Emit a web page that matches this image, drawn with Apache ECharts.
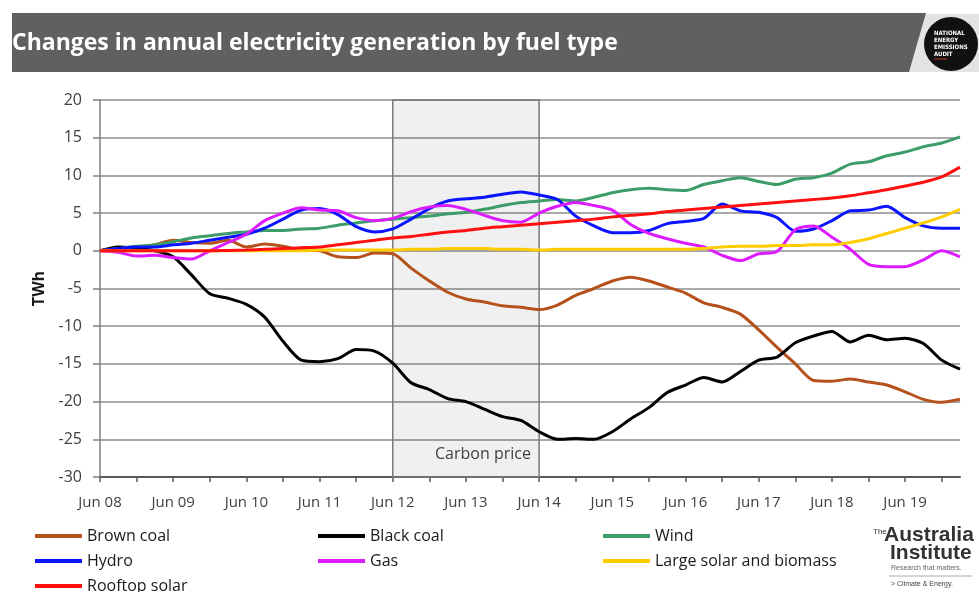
<!DOCTYPE html>
<html>
<head>
<meta charset="utf-8">
<script src="https://cdn.jsdelivr.net/npm/echarts@6/dist/echarts.min.js"></script>
<style>
html, body { margin: 0; padding: 0; background: #fff; }
#chart { width: 979px; height: 592px; }
</style>
</head>
<body>
<div id="chart"></div>
<script>
// quarterly points, Jun 08 .. Mar 20
var months = ['Jun', 'Sep', 'Dec', 'Mar'];
var quarters = [];
for (var k = 0; k < 48; k++) {
    var yr = 8 + Math.floor((k + 1) / 4);
    quarters.push(months[k % 4] + ' ' + (yr < 10 ? '0' + yr : '' + yr));
}

var brownCoal = [0, 0.3, 0.4, 0.8, 1.4, 1.1, 1.0, 1.4, 0.5, 0.9, 0.6, 0.1,
    0, -0.8, -0.9, -0.3, -0.4, -2.3, -4.0, -5.5, -6.4, -6.8, -7.3, -7.5,
    -7.8, -7.2, -5.9, -5.0, -4.0, -3.5, -4.0, -4.8, -5.6, -6.9, -7.5, -8.4,
    -10.5, -12.8, -15.0, -17.2, -17.3, -17.0, -17.4, -17.8, -18.7, -19.7, -20.1, -19.7];
var blackCoal = [0, 0.5, 0.3, 0, -0.8, -3.2, -5.7, -6.3, -7.1, -8.8, -12.0, -14.5,
    -14.7, -14.3, -13.1, -13.3, -14.9, -17.5, -18.4, -19.6, -20.0, -21.0, -22.0, -22.5,
    -24.0, -25.0, -24.9, -25.0, -24.0, -22.3, -20.8, -18.8, -17.8, -16.8, -17.4, -16.0,
    -14.5, -14.1, -12.2, -11.3, -10.7, -12.1, -11.2, -11.8, -11.6, -12.3, -14.5, -15.7];
var wind = [0, 0.3, 0.6, 0.8, 1.2, 1.7, 2.0, 2.3, 2.5, 2.7, 2.7, 2.9,
    3.0, 3.4, 3.7, 4.0, 4.2, 4.4, 4.6, 4.9, 5.1, 5.5, 6.0, 6.4,
    6.6, 6.8, 6.6, 7.1, 7.7, 8.1, 8.3, 8.1, 8.0, 8.8, 9.3, 9.7,
    9.2, 8.8, 9.5, 9.7, 10.3, 11.5, 11.8, 12.6, 13.1, 13.8, 14.3, 15.1];
var hydro = [0, 0.3, 0.5, 0.5, 0.8, 1.0, 1.4, 1.8, 2.2, 3.0, 4.2, 5.4,
    5.6, 4.8, 3.2, 2.5, 2.9, 4.2, 5.6, 6.6, 6.9, 7.1, 7.5, 7.8,
    7.4, 6.8, 4.6, 3.3, 2.4, 2.4, 2.7, 3.6, 3.9, 4.3, 6.2, 5.3,
    5.1, 4.4, 2.6, 2.9, 4.0, 5.3, 5.4, 5.9, 4.4, 3.3, 3.0, 3.0];
var gas = [0, -0.2, -0.7, -0.6, -0.9, -1.1, 0.0, 1.1, 2.2, 4.0, 5.0, 5.7,
    5.4, 5.3, 4.4, 4.0, 4.3, 5.2, 5.8, 6.0, 5.5, 4.7, 4.0, 3.8,
    5.0, 5.9, 6.4, 6.0, 5.4, 3.5, 2.3, 1.6, 1.0, 0.5, -0.6, -1.3,
    -0.4, -0.1, 2.8, 3.3, 1.8, 0.2, -1.8, -2.1, -2.1, -1.2, 0.0, -0.8];
var largeSolar = [0, 0, 0, 0, 0, 0, 0, 0, 0, 0, 0, 0,
    0.1, 0.1, 0.1, 0.1, 0.1, 0.2, 0.2, 0.3, 0.3, 0.3, 0.2, 0.2,
    0.1, 0.2, 0.2, 0.2, 0.2, 0.2, 0.2, 0.2, 0.2, 0.3, 0.5, 0.6,
    0.6, 0.7, 0.7, 0.8, 0.8, 1.1, 1.6, 2.3, 3.0, 3.7, 4.5, 5.5];
var rooftopSolar = [0, 0, 0, 0, 0, 0, 0, 0.05, 0.1, 0.2, 0.3, 0.4,
    0.5, 0.8, 1.1, 1.4, 1.7, 1.9, 2.2, 2.5, 2.7, 3.0, 3.2, 3.4,
    3.6, 3.8, 4.0, 4.2, 4.5, 4.7, 4.9, 5.2, 5.4, 5.6, 5.8, 6.0,
    6.2, 6.4, 6.6, 6.8, 7.0, 7.3, 7.7, 8.1, 8.6, 9.1, 9.8, 11.1];

var yTicks = [20, 15, 10, 5, 0, -5, -10, -15, -20, -25, -30];

var font = '"Open Sans", sans-serif';
var narrow = '"Liberation Sans Narrow", sans-serif';

function line(name, data, color) {
    return {
        name: name,
        type: 'line',
        data: data,
        smooth: 0.25,
        symbol: 'none',
        z: 3,
        lineStyle: { color: color, width: 3 },
        itemStyle: { color: color }
    };
}

function legendCol(left, names) {
    return {
        left: left, top: 526, height: 90, padding: 0,
        orient: 'vertical', itemGap: 5,
        icon: 'rect', itemWidth: 47, itemHeight: 4,
        textStyle: { color: '#1a1a1a', fontSize: 16, fontFamily: font, lineHeight: 20 },
        data: names
    };
}

var chart = echarts.init(document.getElementById('chart'));

option = {
    animation: false,
    backgroundColor: '#fff',
    grid: { left: 100, right: 19, top: 100, bottom: 115 },
    xAxis: {
        type: 'category',
        data: quarters,
        boundaryGap: false,
        axisLine: { onZero: false, lineStyle: { color: '#595959', width: 2 } },
        axisTick: { interval: 1, length: 5, lineStyle: { color: '#595959', width: 1.5 } },
        axisLabel: {
            interval: 3, margin: 18, color: '#404040', fontSize: 15, fontFamily: font
        },
        splitLine: { show: false }
    },
    yAxis: {
        type: 'value',
        min: yTicks[yTicks.length - 1],
        max: yTicks[0],
        interval: 5,
        name: 'TWh',
        nameLocation: 'middle',
        nameGap: 44,
        nameRotate: 90,
        nameTextStyle: { color: '#1a1a1a', fontSize: 16, fontWeight: 'bold', fontFamily: font },
        axisLine: { show: true, lineStyle: { color: '#808080', width: 1.5 } },
        axisTick: { show: true, length: 7, lineStyle: { color: '#808080', width: 1.5 } },
        axisLabel: { margin: 18, color: '#404040', fontSize: 16, fontFamily: font },
        splitLine: { lineStyle: { color: '#8c8c8c', width: 1.5 } }
    },
    legend: [
        legendCol(35, ['Brown coal', 'Hydro', 'Rooftop solar']),
        legendCol(318, ['Black coal', 'Gas']),
        legendCol(603, ['Wind', 'Large solar and biomass'])
    ],
    graphic: [
        {
            type: 'polygon', silent: true,
            shape: { points: [[925, 14], [979, 14], [979, 72], [908, 72]] },
            style: { fill: '#e3e3e3' }
        },
        {
            type: 'polygon', silent: true,
            shape: { points: [[12, 13], [926, 13], [909, 72], [12, 72]] },
            style: { fill: '#606060' }
        },
        {
            type: 'text', left: 12, top: 32,
            style: {
                text: 'Changes in annual electricity generation by fuel type',
                fill: '#fff', fontSize: 23, fontWeight: 'bold', fontFamily: font
            }
        },
        {
            type: 'circle', silent: true,
            shape: { cx: 951, cy: 44, r: 27 },
            style: { fill: '#111' }
        },
        {
            type: 'text', left: 934, top: 30,
            style: {
                text: 'NATIONAL\nENERGY\nEMISSIONS\nAUDIT',
                fill: '#fff', fontSize: 6, lineHeight: 7, fontWeight: 'bold',
                fontFamily: '"DejaVu Sans Condensed", sans-serif'
            }
        },
        {
            type: 'line', silent: true,
            shape: { x1: 934, y1: 59, x2: 947, y2: 59 },
            style: { stroke: '#c0392b', lineWidth: 1 }
        },
        {
            type: 'text', left: 873, top: 528,
            style: { text: 'The', fill: '#333', fontSize: 8, fontFamily: narrow }
        },
        {
            type: 'text', left: 884, top: 525,
            style: { text: 'Australia', fill: '#333', fontSize: 21, fontWeight: 'bold', fontFamily: narrow }
        },
        {
            type: 'text', left: 890, top: 543,
            style: { text: 'Institute', fill: '#333', fontSize: 21, fontWeight: 'bold', fontFamily: narrow }
        },
        {
            type: 'text', left: 891, top: 565,
            style: { text: 'Research that matters.', fill: '#666', fontSize: 7, fontFamily: narrow }
        },
        {
            type: 'line', silent: true,
            shape: { x1: 889, y1: 576, x2: 972, y2: 576 },
            style: { stroke: '#aaa', lineWidth: 1 }
        },
        {
            type: 'text', left: 891, top: 581,
            style: { text: '> Climate & Energy.', fill: '#444', fontSize: 7, fontFamily: narrow }
        }
    ],
    series: [
        {
            name: 'carbon',
            type: 'line',
            data: [],
            z: 1,
            markArea: {
                silent: true,
                itemStyle: { color: 'rgba(0,0,0,0.06)', borderColor: '#7a7a7a', borderWidth: 1.5 },
                label: {
                    show: true,
                    position: 'insideBottomRight', distance: 9, offset: [0, -6],
                    color: '#404040', fontSize: 16, fontFamily: font
                },
                data: [[{ name: 'Carbon price', xAxis: 'Jun 12' }, { xAxis: 'Jun 14' }]]
            }
        },
        line('Brown coal', brownCoal, '#b5521b'),
        line('Black coal', blackCoal, '#000000'),
        line('Wind', wind, '#3c9d68'),
        line('Hydro', hydro, '#0a14ff'),
        line('Gas', gas, '#dd1bff'),
        line('Large solar and biomass', largeSolar, '#ffcc00'),
        line('Rooftop solar', rooftopSolar, '#ff1010')
    ]
};
chart.setOption(option);
</script>
</body>
</html>
